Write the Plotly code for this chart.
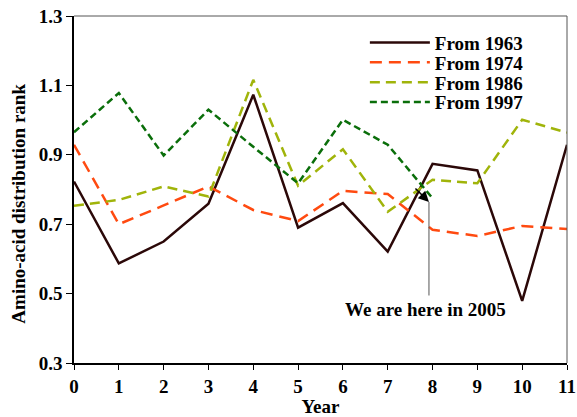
import plotly.graph_objects as go

years = list(range(12))
from_1963 = [0.823, 0.587, 0.650, 0.759, 1.073, 0.690, 0.761, 0.621, 0.874, 0.855, 0.479, 0.929]
from_1974 = [0.929, 0.700, 0.754, 0.809, 0.741, 0.709, 0.796, 0.787, 0.684, 0.666, 0.695, 0.686]
from_1986 = [0.753, 0.770, 0.809, 0.780, 1.116, 0.811, 0.916, 0.736, 0.828, 0.818, 1.001, 0.964]
from_1997 = [0.965, 1.078, 0.898, 1.030, 0.923, 0.818, 1.001, 0.929, 0.775]
y_ticks = [0.3, 0.5, 0.7, 0.9, 1.1, 1.3]
x_ticks = list(range(12))

font_family = "Liberation Serif"

fig = go.Figure()
series = [
    ("From 1963", from_1963, "#2b0808", "solid", "legend", 0.923),
    ("From 1974", from_1974, "#ff4a10", "12px,7px", "legend2", 0.866),
    ("From 1986", from_1986, "#a0b40a", "10px,6px", "legend3", 0.809),
    ("From 1997", from_1997, "#0a6e0a", "7px,4px", "legend4", 0.752),
]
legend_font = dict(family=font_family, size=19, color="black", weight="bold")
legend_layouts = {}
for name, vals, color, dash, lg, ly in series:
    fig.add_trace(go.Scatter(
        x=years[:len(vals)], y=vals, mode="lines", name=name,
        line=dict(color=color, dash=dash, width=2.5), legend=lg,
    ))
    legend_layouts[lg] = dict(x=0.59, y=ly, xanchor="left", yanchor="middle",
                              bgcolor="rgba(0,0,0,0)", borderwidth=0,
                              font=legend_font, itemwidth=60)

# frame on top and right
fig.add_shape(type="line", xref="paper", yref="paper", x0=0, x1=1, y0=1, y1=1,
              line=dict(color="#555555", width=1))
fig.add_shape(type="line", xref="paper", yref="paper", x0=1, x1=1, y0=0, y1=1,
              line=dict(color="#555555", width=1))

# annotation: arrowhead plus thin vertical line to the text
fig.add_annotation(x=7.92, y=0.764, xref="x", yref="y", text="", showarrow=True,
                   arrowhead=2, arrowsize=1.4, arrowwidth=1.5, arrowcolor="black",
                   ax=-15, ay=-15)
fig.add_annotation(x=7.92, y=0.764, xref="x", yref="y", text="", showarrow=True,
                   arrowhead=0, arrowwidth=1, arrowcolor="#555555",
                   ax=0, ay=95)
fig.add_annotation(x=7.85, y=0.453, xref="x", yref="y", text="We are here in 2005",
                   showarrow=False, yanchor="middle",
                   font=dict(family=font_family, size=19, color="black", weight="bold"))

# y-axis title placed as in the reference (slightly below the axis centre)
fig.add_annotation(x=-0.113, y=0.46, xref="paper", yref="paper",
                   text="Amino-acid distribution rank", textangle=-90, showarrow=False,
                   xanchor="center", yanchor="middle",
                   font=dict(family=font_family, size=19, color="black", weight="bold"))

fig.update_layout(
    width=577, height=417,
    margin=dict(l=74, r=10, t=16, b=54, autoexpand=False),
    paper_bgcolor="white", plot_bgcolor="white",
    font=dict(family=font_family, color="black", size=18),
    showlegend=True,
    xaxis=dict(range=[0, 11], tickvals=x_ticks, ticktext=[str(t) for t in x_ticks],
               showgrid=False, zeroline=False, showline=True, linecolor="black", linewidth=1.5,
               ticks="outside", ticklen=5, tickcolor="black", automargin=False,
               ticklabeloverflow="allow",
               tickfont=dict(family=font_family, size=19, weight="bold"),
               title=dict(text="Year", font=dict(family=font_family, size=19, weight="bold"), standoff=18)),
    yaxis=dict(range=[0.3, 1.3], tickvals=y_ticks, ticktext=[f"{t:.1f}" for t in y_ticks],
               showgrid=False, zeroline=False, showline=True, linecolor="black", linewidth=1.5,
               ticks="outside", ticklen=6, tickcolor="black", automargin=False,
               ticklabeloverflow="allow",
               tickfont=dict(family=font_family, size=19, weight="bold")),
    **legend_layouts,
)

fig.write_html("out.html", config={"displayModeBar": False},
               post_script="document.body.style.margin='0';")
